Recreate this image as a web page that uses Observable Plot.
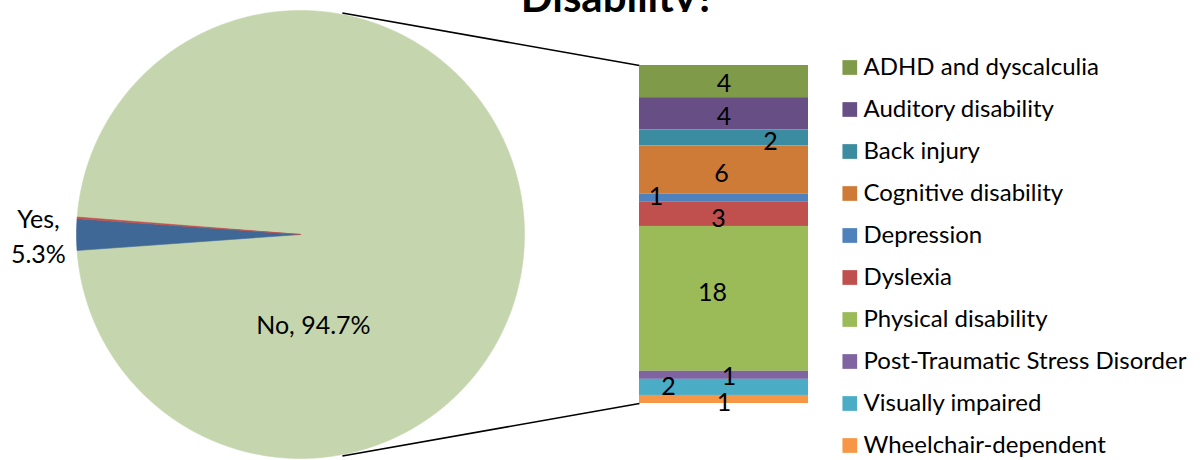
<!DOCTYPE html>
<html><head><meta charset="utf-8">
<script src="https://cdn.jsdelivr.net/npm/d3@7"></script>
<script src="https://cdn.jsdelivr.net/npm/@observablehq/plot@0.6"></script>
<style>
body{margin:0;background:#fff;}
#wrap{position:relative;width:1202px;height:460px;overflow:hidden;font-family:Lato,sans-serif;}
#tclip{position:absolute;left:0;top:0;width:1236px;height:12px;overflow:hidden;z-index:2;}
#title{position:absolute;left:0;top:-25px;width:100%;text-align:center;font:bold 42px/42px Lato,sans-serif;color:#000;}
#main{position:absolute;left:0;top:0;}
#legend{position:absolute;left:820px;top:0;}
</style></head><body>
<div id="wrap"><div id="tclip"><div id="title">Disability?</div></div><div id="main"></div><div id="legend"></div></div>
<script>
// ---- data ----
const categories = ["ADHD and dyscalculia","Auditory disability","Back injury","Cognitive disability","Depression","Dyslexia","Physical disability","Post-Traumatic Stress Disorder","Visually impaired","Wheelchair-dependent"];
const counts = [4,4,2,6,1,3,18,1,2,1];
const barColors = ["#7F9A48","#674F86","#3B8CA1","#CE7B37","#4F81BD","#C0504D","#9BBB59","#8064A2","#4BACC6","#F79646"];
const pieNames = ["Yes","Other","No"];
const pieShares = [2.26, 0.12, 97.62];          // drawn shares
const pieColors = ["#3F6897","#C0504D","#C5D6AE"];
const pieLabelTexts = ["Yes,\n5.3%", "No, 94.7%"];

// ---- layout (pixels) ----
const W = 820, H = 460;
const barTop = 65, barBottom = 403, barLeft = 639, barRight = 808;
const pieCx = 300, pieCy = 234, pieR = 224;
const labelDx = [0,0,46.5,-2.5,-68,-5.5,-11.5,5,-55.5,0];
const labelDy = [1.5,2.5,3,3,-2,3.5,-7,0.5,-1.7,3];
const deg = Math.PI/180;

const total = d3.sum(counts);
const k = (barBottom - barTop) / total;      // pixels per count
const ux = px => px / k;
const uy = py => (barBottom - py) / k;
const cx = ux(pieCx), cy = uy(pieCy), r = pieR / k;

// pie slices
const pie = d3.pie().sort(null).value(d => d.share)
  .startAngle((270 - 4.1) * deg).endAngle((270 - 4.1) * deg + 2 * Math.PI);
const arcs = pie(pieNames.map((name, i) => ({name, share: pieShares[i], color: pieColors[i]})));
function slicePoints(a) {
  const n = Math.max(2, Math.ceil((a.endAngle - a.startAngle) / (0.4 * deg)));
  const pts = [{x: cx, y: cy}];
  for (let j = 0; j <= n; j++) {
    const t = a.startAngle + (a.endAngle - a.startAngle) * j / n;
    pts.push({x: cx + r * Math.sin(t), y: cy + r * Math.cos(t)});
  }
  pts.push({x: cx, y: cy});
  return pts;
}
const drawOrder = [2, 0, 1];
const pieMarks = drawOrder.map(i => Plot.line(slicePoints(arcs[i]), {
  x: "x", y: "y", fill: arcs[i].data.color, stroke: arcs[i].data.color, strokeWidth: 0.6, curve: "linear"
}));

// pie labels
const yesArc = arcs[0];
const yesMid = (yesArc.startAngle + yesArc.endAngle) / 2;
const pieLabels = [
  {text: pieLabelTexts[0], a: yesMid, f: 1.17},
  {text: pieLabelTexts[1], a: 171.7 * deg, f: 0.40}
].map(d => ({text: d.text, x: cx + r * d.f * Math.sin(d.a), y: cy + r * d.f * Math.cos(d.a)}));

// bar stack (top to bottom in listed order)
let acc = total;
const rows = categories.map((c, i) => {
  const y2 = acc, y1 = acc - counts[i]; acc = y1;
  return {c, v: counts[i], y1, y2, color: barColors[i], i};
});
const bx1 = ux(barLeft), bx2 = ux(barRight), bxc = (bx1 + bx2) / 2;

// connectors
const links = [
  {a: 10.7 * deg, yb: total},
  {a: 169.3 * deg, yb: 0}
].map(d => ({x1: cx + (r + 1.5 / k) * Math.sin(d.a), y1: cy + (r + 1.5 / k) * Math.cos(d.a), x2: bx1, y2: d.yb}));

const main = Plot.plot({
  width: W, height: H, margin: 0,
  x: {domain: [0, ux(W)], range: [0, W], axis: null},
  y: {domain: [0, total], range: [barBottom, barTop], axis: null},
  style: {fontFamily: "Lato, sans-serif", background: "transparent"},
  marks: [
    ...pieMarks,
    Plot.link(links, {x1: "x1", y1: "y1", x2: "x2", y2: "y2", stroke: "#000", strokeWidth: 1.6}),
    Plot.rect(rows, {x1: bx1, x2: bx2, y1: "y1", y2: "y2", fill: "color"}),
    Plot.text(rows, {x: d => bxc + ux(labelDx[d.i]), y: d => (d.y1 + d.y2) / 2 - labelDy[d.i] / k, text: d => String(d.v),
      fontSize: 25, fill: "#000", lineAnchor: "middle", dy: 1}),
    Plot.text(pieLabels, {x: "x", y: "y", text: "text", fontSize: 25, fill: "#000", lineAnchor: "middle", lineHeight: 1.4})
  ]
});
document.getElementById("main").appendChild(main);

const legend = Plot.plot({
  width: 382, height: H, margin: 0,
  x: {domain: [0, 382], range: [0, 382], axis: null},
  y: {type: "point", domain: categories, range: [66.8, 445], padding: 0, axis: null},
  style: {fontFamily: "Lato, sans-serif", background: "transparent"},
  marks: [
    Plot.dot(categories, {x: 29.3, y: d => d, symbol: "square", r: 8.3, fill: (d, i) => barColors[i], stroke: null}),
    Plot.text(categories, {x: 43, y: d => d, text: d => d, textAnchor: "start", fontSize: 24, fill: "#000", lineAnchor: "middle"})
  ]
});
document.getElementById("legend").appendChild(legend);
</script>
</body></html>
